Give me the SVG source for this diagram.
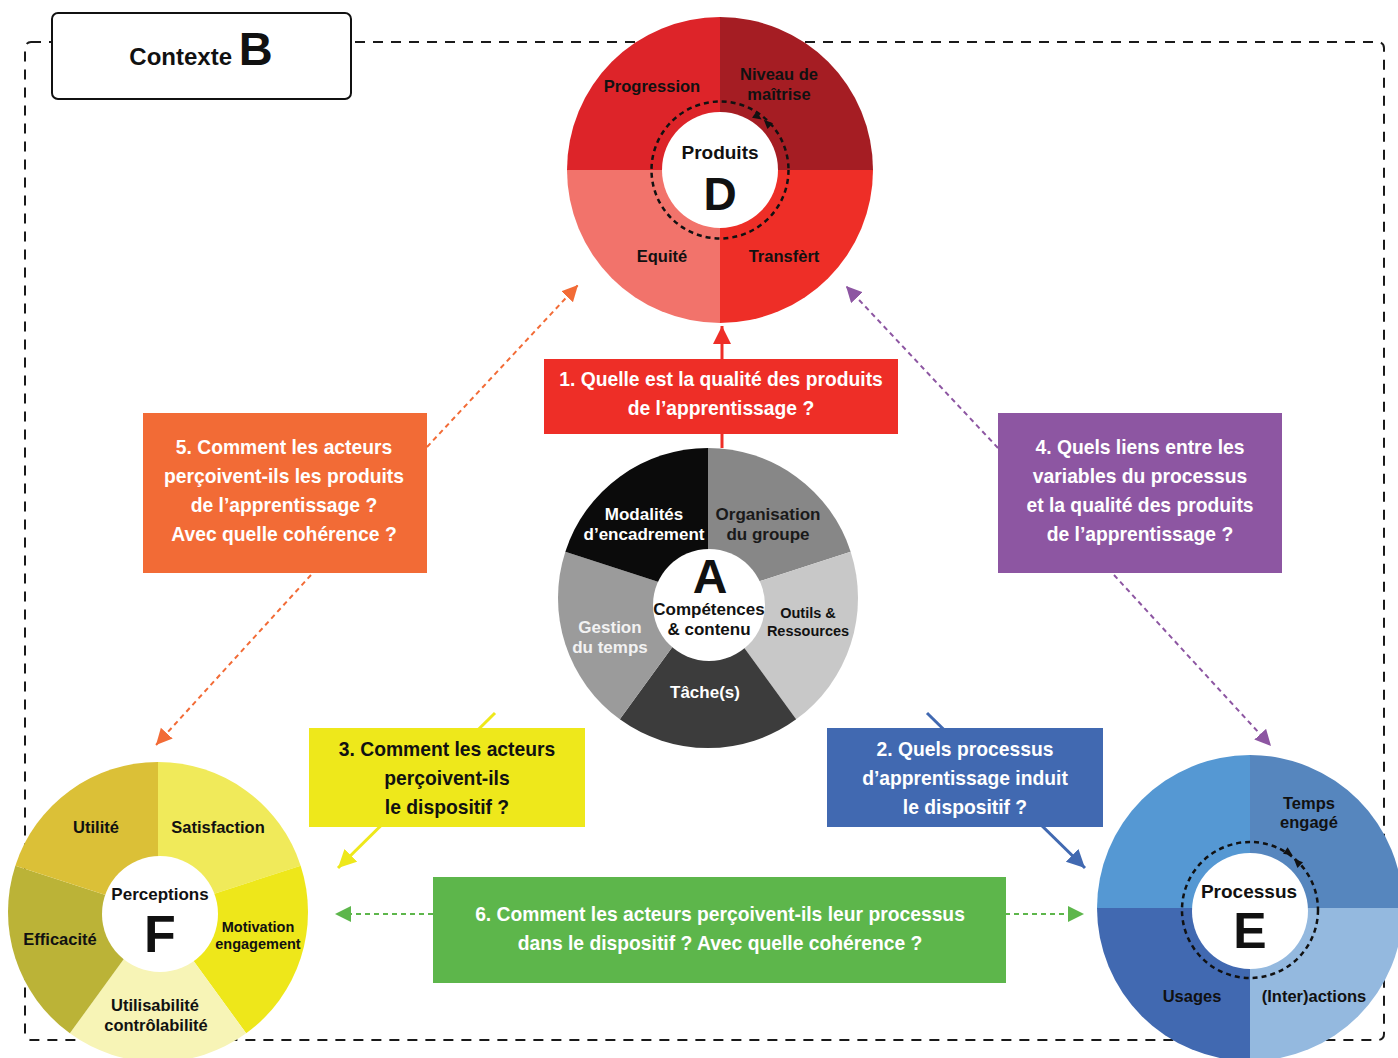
<svg xmlns="http://www.w3.org/2000/svg" width="1398" height="1058" viewBox="0 0 1398 1058">
<defs>
<style>
text{font-family:"Liberation Sans",Arial,sans-serif;font-weight:bold;text-anchor:middle}
.lbl{font-size:16.5px;fill:#111}
.lblA{font-size:17px}
.sm{font-size:14.5px;fill:#111}
.q{font-size:19.3px;fill:#fff}
.qk{font-size:19.3px;fill:#111}
.ring{fill:none;stroke:#111;stroke-width:2.5;stroke-dasharray:5 4}
.hole{fill:#fff}
</style>
<marker id="mOr" markerUnits="userSpaceOnUse" markerWidth="20" markerHeight="20" refX="16" refY="8" orient="auto"><path d="M0,0 L16,8 L0,16 Z" fill="#F26B36"/></marker>
<marker id="mPu" markerUnits="userSpaceOnUse" markerWidth="20" markerHeight="20" refX="16" refY="8" orient="auto"><path d="M0,0 L16,8 L0,16 Z" fill="#8D56A2"/></marker>
<marker id="mGr" markerUnits="userSpaceOnUse" markerWidth="20" markerHeight="20" refX="16" refY="8" orient="auto"><path d="M0,0 L16,8 L0,16 Z" fill="#5DB64B"/></marker>
<marker id="mYe" markerUnits="userSpaceOnUse" markerWidth="22" markerHeight="22" refX="18" refY="9" orient="auto"><path d="M0,0 L18,9 L0,18 Z" fill="#EEE81B"/></marker>
<marker id="mBl" markerUnits="userSpaceOnUse" markerWidth="22" markerHeight="22" refX="18" refY="9" orient="auto"><path d="M0,0 L18,9 L0,18 Z" fill="#4169B1"/></marker>
<marker id="mRe" markerUnits="userSpaceOnUse" markerWidth="22" markerHeight="22" refX="18" refY="9" orient="auto"><path d="M0,0 L18,9 L0,18 Z" fill="#EE2E27"/></marker>
</defs>
<rect width="1398" height="1058" fill="#fff"/>

<g id="context-border">
<rect x="25" y="42" width="1359" height="998" rx="6" fill="none" stroke="#1a1a1a" stroke-width="2" stroke-dasharray="10 8"/>
</g>

<g id="connectors">
<line x1="722" y1="448" x2="722" y2="326" stroke="#EE2E27" stroke-width="3" marker-end="url(#mRe)"/>
<line x1="427" y1="447" x2="578" y2="285" stroke="#F26B36" stroke-width="2" stroke-dasharray="5 4" marker-end="url(#mOr)"/>
<line x1="311" y1="575" x2="156" y2="745" stroke="#F26B36" stroke-width="2" stroke-dasharray="5 4" marker-end="url(#mOr)"/>
<line x1="998" y1="448" x2="846" y2="286" stroke="#8D56A2" stroke-width="2" stroke-dasharray="5 4" marker-end="url(#mPu)"/>
<line x1="1114" y1="575" x2="1271" y2="746" stroke="#8D56A2" stroke-width="2" stroke-dasharray="5 4" marker-end="url(#mPu)"/>
<line x1="495" y1="713" x2="338" y2="868" stroke="#EEE81B" stroke-width="3" marker-end="url(#mYe)"/>
<line x1="927" y1="713" x2="1085" y2="868" stroke="#4169B1" stroke-width="3" marker-end="url(#mBl)"/>
<line x1="433" y1="914" x2="335" y2="914" stroke="#5DB64B" stroke-width="2" stroke-dasharray="5 4" marker-end="url(#mGr)"/>
<line x1="1005" y1="914" x2="1084" y2="914" stroke="#5DB64B" stroke-width="2" stroke-dasharray="5 4" marker-end="url(#mGr)"/>
</g>

<g id="node-B">
<rect x="52" y="13" width="299" height="86" rx="6" fill="#fff" stroke="#111" stroke-width="2"/>
<text x="201" y="65" style="font-size:24px;fill:#111">Contexte <tspan style="font-size:47px">B</tspan></text>
</g>

<g id="node-D">
<path d="M720,170 L567,170 A153,153 0 0 1 720,17 Z" fill="#DD2429"/>
<path d="M720,170 L720,17 A153,153 0 0 1 873,170 Z" fill="#A51D23"/>
<path d="M720,170 L873,170 A153,153 0 0 1 720,323 Z" fill="#EE2E27"/>
<path d="M720,170 L720,323 A153,153 0 0 1 567,170 Z" fill="#F2736B"/>
<circle class="ring" cx="720" cy="170" r="68.5"/>
<polygon points="-4.5,-4 4.5,0 -4.5,4" fill="#111" transform="translate(758,117) rotate(35)"/>
<polygon points="-4.5,-4 4.5,0 -4.5,4" fill="#111" transform="translate(767,123) rotate(224)"/>
<circle class="hole" cx="720" cy="170" r="58"/>
<text class="lbl" x="652" y="92">Progression</text>
<text class="lbl" x="779" y="80">Niveau de</text>
<text class="lbl" x="779" y="100">maîtrise</text>
<text x="720" y="159" style="font-size:19px;fill:#111">Produits</text>
<text x="720" y="210" style="font-size:46px;fill:#111">D</text>
<text class="lbl" x="662" y="262">Equité</text>
<text class="lbl" x="784" y="262">Transfèrt</text>
</g>

<g id="node-A">
<path d="M708,598 L708,448 A150,150 0 0 1 850.66,551.65 Z" fill="#878787"/>
<path d="M708,598 L850.66,551.65 A150,150 0 0 1 796.17,719.35 Z" fill="#C8C8C8"/>
<path d="M708,598 L796.17,719.35 A150,150 0 0 1 619.83,719.35 Z" fill="#3C3C3C"/>
<path d="M708,598 L619.83,719.35 A150,150 0 0 1 565.34,551.65 Z" fill="#9B9B9B"/>
<path d="M708,598 L565.34,551.65 A150,150 0 0 1 708,448 Z" fill="#0B0B0B"/>
<circle class="hole" cx="709" cy="605" r="56"/>
<text class="lblA" x="644" y="520" fill="#fff">Modalités</text>
<text class="lblA" x="644" y="540" fill="#fff">d’encadrement</text>
<text class="lblA" x="768" y="520" fill="#1a1a1a">Organisation</text>
<text class="lblA" x="768" y="540" fill="#1a1a1a">du groupe</text>
<text x="710" y="593" style="font-size:48px;fill:#111">A</text>
<text class="lblA" x="709" y="615" fill="#111">Compétences</text>
<text class="lblA" x="709" y="635" fill="#111">&amp; contenu</text>
<text class="sm" x="808" y="618">Outils &amp;</text>
<text class="sm" x="808" y="636">Ressources</text>
<text class="lblA" x="610" y="633" fill="#f2f2f2">Gestion</text>
<text class="lblA" x="610" y="653" fill="#f2f2f2">du temps</text>
<text class="lblA" x="705" y="698" fill="#fff">Tâche(s)</text>
</g>

<g id="node-F">
<path d="M158,912 L158,762 A150,150 0 0 1 300.66,865.65 Z" fill="#F0EA5A"/>
<path d="M158,912 L300.66,865.65 A150,150 0 0 1 246.17,1033.35 Z" fill="#EEE71A"/>
<path d="M158,912 L246.17,1033.35 A150,150 0 0 1 69.83,1033.35 Z" fill="#F7F4B6"/>
<path d="M158,912 L69.83,1033.35 A150,150 0 0 1 15.34,865.65 Z" fill="#BBB337"/>
<path d="M158,912 L15.34,865.65 A150,150 0 0 1 158,762 Z" fill="#DBC037"/>
<circle class="hole" cx="160" cy="914" r="58"/>
<text class="lbl" x="96" y="833">Utilité</text>
<text class="lbl" x="218" y="833">Satisfaction</text>
<text x="160" y="900" style="font-size:17px;fill:#111">Perceptions</text>
<text x="160" y="952" style="font-size:52px;fill:#111">F</text>
<text class="sm" x="258" y="932">Motivation</text>
<text class="sm" x="258" y="949">engagement</text>
<text class="lbl" x="60" y="945">Efficacité</text>
<text class="lbl" x="155" y="1011">Utilisabilité</text>
<text class="lbl" x="156" y="1031">contrôlabilité</text>
</g>

<g id="node-E">
<path d="M1250,908 L1097,908 A153,153 0 0 1 1250,755 Z" fill="#5598D3"/>
<path d="M1250,908 L1250,755 A153,153 0 0 1 1403,908 Z" fill="#5686BE"/>
<path d="M1250,908 L1403,908 A153,153 0 0 1 1250,1061 Z" fill="#94B9DF"/>
<path d="M1250,908 L1250,1061 A153,153 0 0 1 1097,908 Z" fill="#4169B1"/>
<circle class="ring" cx="1250" cy="910" r="68"/>
<polygon points="-4.5,-4 4.5,0 -4.5,4" fill="#111" transform="translate(1289,853) rotate(35)"/>
<polygon points="-4.5,-4 4.5,0 -4.5,4" fill="#111" transform="translate(1297,862) rotate(224)"/>
<circle class="hole" cx="1250" cy="911" r="58"/>
<text class="lbl" x="1309" y="809">Temps</text>
<text class="lbl" x="1309" y="828">engagé</text>
<text x="1249" y="898" style="font-size:19px;fill:#111">Processus</text>
<text x="1250" y="948" style="font-size:50px;fill:#111">E</text>
<text class="lbl" x="1192" y="1002">Usages</text>
<text class="lbl" x="1314" y="1002">(Inter)actions</text>
</g>

<g id="q1">
<rect x="544" y="359" width="354" height="75" fill="#EE2E27"/>
<text class="q" x="721" y="386">1. Quelle est la qualité des produits</text>
<text class="q" x="721" y="415">de l’apprentissage ?</text>
</g>

<g id="q5">
<rect x="143" y="413" width="284" height="160" fill="#F26B36"/>
<text class="q" x="284" y="454">5. Comment les acteurs</text>
<text class="q" x="284" y="483">perçoivent-ils les produits</text>
<text class="q" x="284" y="512">de l’apprentissage ?</text>
<text class="q" x="284" y="541">Avec quelle cohérence ?</text>
</g>

<g id="q4">
<rect x="998" y="413" width="284" height="160" fill="#8D56A2"/>
<text class="q" x="1140" y="454">4. Quels liens entre les</text>
<text class="q" x="1140" y="483">variables du processus</text>
<text class="q" x="1140" y="512">et la qualité des produits</text>
<text class="q" x="1140" y="541">de l’apprentissage ?</text>
</g>

<g id="q3">
<rect x="309" y="728" width="276" height="99" fill="#EEE81B"/>
<text class="qk" x="447" y="756">3. Comment les acteurs</text>
<text class="qk" x="447" y="785">perçoivent-ils</text>
<text class="qk" x="447" y="814">le dispositif ?</text>
</g>

<g id="q2">
<rect x="827" y="728" width="276" height="99" fill="#4169B1"/>
<text class="q" x="965" y="756">2. Quels processus</text>
<text class="q" x="965" y="785">d’apprentissage induit</text>
<text class="q" x="965" y="814">le dispositif ?</text>
</g>

<g id="q6">
<rect x="433" y="877" width="573" height="106" fill="#5DB64B"/>
<text class="q" x="720" y="921">6. Comment les acteurs perçoivent-ils leur processus</text>
<text class="q" x="720" y="950">dans le dispositif ? Avec quelle cohérence ?</text>
</g>
</svg>
